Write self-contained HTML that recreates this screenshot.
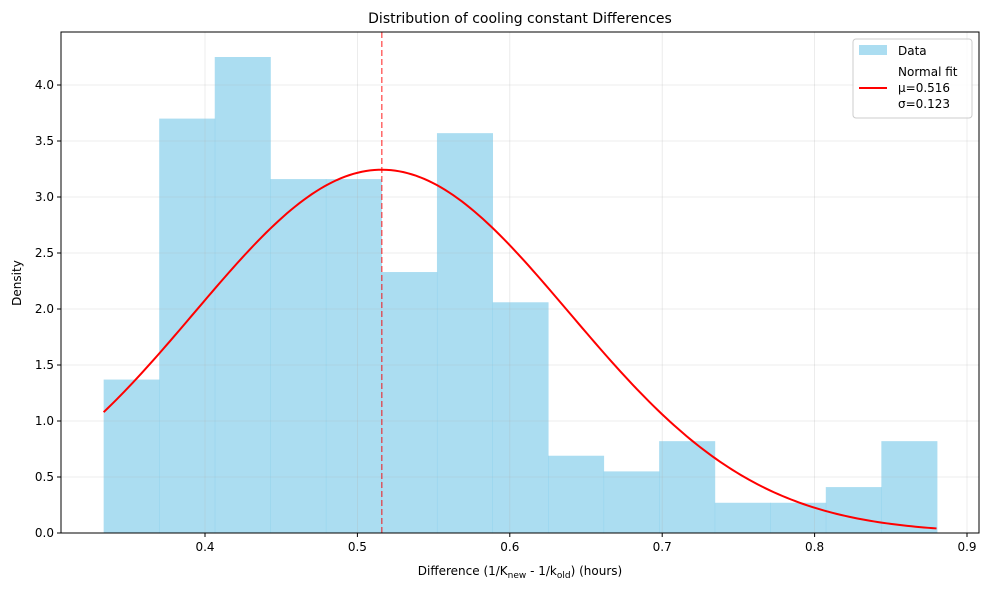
<!DOCTYPE html>
<html><head><meta charset="utf-8"><style>
body{margin:0;background:#fff;font-family:"Liberation Sans","DejaVu Sans",sans-serif;}
text{font-family:"DejaVu Sans","Liberation Sans",sans-serif;}
</style></head><body>
<svg id="chart" width="989" height="590" xmlns="http://www.w3.org/2000/svg">
<rect width="989" height="590" fill="#fff"/>
<g id="bars"></g><g id="grid"></g><g id="curve"></g><g id="axes"></g>
</svg>
<script>
const binStart = 0.3335;
const binWidth = 0.03645;
const densities = [1.37, 3.70, 4.25, 3.16, 3.16, 2.33, 3.57, 2.06, 0.69, 0.55, 0.82, 0.27, 0.27, 0.41, 0.82];
const xTicks = [0.4, 0.5, 0.6, 0.7, 0.8, 0.9];
const yTicks = [0, 0.5, 1.0, 1.5, 2.0, 2.5, 3.0, 3.5, 4.0];
const mu = 0.516, sigma = 0.123;
const fitRange = [0.3335, 0.880];

const L=61,R=979,T=32,B=533;
const x = v => 205 + (v-0.4)*1524;
const y = v => 533 - v*112;
const NS="http://www.w3.org/2000/svg";
function mk(tag, attrs, parent){const e=document.createElementNS(NS,tag);for(const k in attrs)e.setAttribute(k,attrs[k]);parent.appendChild(e);return e;}
const grid=document.getElementById('grid'), bars=document.getElementById('bars'), curve=document.getElementById('curve'), axes=document.getElementById('axes');

xTicks.forEach(t=>{
  const g=mk('line',{x1:x(t),x2:x(t),y1:T,y2:B,stroke:'#b0b0b0','stroke-opacity':0.3,'stroke-width':0.8},grid);
  
  
  mk('line',{x1:x(t),x2:x(t),y1:B,y2:B+4,stroke:'#000'},axes);
  const lb=mk('text',{x:x(t),y:B+18,'text-anchor':'middle','font-size':12},axes);
  lb.textContent=t.toFixed(1);
  
  
});
yTicks.forEach(t=>{
  const g=mk('line',{x1:L,x2:R,y1:y(t),y2:y(t),stroke:'#b0b0b0','stroke-opacity':0.3,'stroke-width':0.8},grid);
  
  
  mk('line',{x1:L-4,x2:L,y1:y(t),y2:y(t),stroke:'#000'},axes);
  const lb=mk('text',{x:L-7,y:y(t)+4,'text-anchor':'end','font-size':12},axes);
  lb.textContent=t.toFixed(1);
  
  
});
densities.forEach((d,i)=>{
  const x0=x(binStart+i*binWidth), x1=x(binStart+(i+1)*binWidth);
  const r=mk('rect',{x:x0,y:y(d),width:x1-x0+0.5,height:B-y(d),fill:'#87ceeb','fill-opacity':0.7},bars);
  
  
});
let pts=[];
for(let i=0;i<=200;i++){const v=fitRange[0]+(fitRange[1]-fitRange[0])*i/200;
  const p=Math.exp(-0.5*((v-mu)/sigma)**2)/(sigma*Math.sqrt(2*Math.PI));pts.push(x(v).toFixed(2)+','+y(p).toFixed(2));}
const pl=mk('polyline',{points:pts.join(' '),fill:'none',stroke:'#ff0000','stroke-width':2},curve);


const ml=mk('line',{x1:x(mu),x2:x(mu),y1:T,y2:B,stroke:'#ff0000','stroke-opacity':0.6,'stroke-dasharray':'6,3','stroke-width':1.5},curve);


const fr=mk('rect',{x:L,y:T,width:R-L,height:B-T,fill:'none',stroke:'#000','stroke-width':1},axes);


</script>
<svg style="position:absolute;left:0;top:0" width="989" height="590">
<text x="520" y="23" text-anchor="middle" font-size="14" font-family="DejaVu Sans, sans-serif">Distribution of cooling constant Differences</text>
<text x="520" y="575" text-anchor="middle" font-size="12" font-family="DejaVu Sans, sans-serif">Difference (1/K<tspan font-size="9" dy="3">new</tspan><tspan dy="-3"> - 1/k</tspan><tspan font-size="9" dy="3">old</tspan><tspan dy="-3">) (hours)</tspan></text>
<text transform="translate(21,283) rotate(-90)" text-anchor="middle" font-size="12" font-family="DejaVu Sans, sans-serif">Density</text>
<g>
<rect x="853" y="39" width="119" height="79" rx="3" fill="#fff" fill-opacity="0.8" stroke="#ccc"/>
<rect x="859" y="45" width="28" height="10" fill="#87ceeb" fill-opacity="0.7"/>
<text x="898" y="55" font-size="12" font-family="DejaVu Sans, sans-serif">Data</text>
<line x1="859" x2="887" y1="88" y2="88" stroke="#f00" stroke-width="2"/>
<text x="898" y="76" font-size="12" font-family="DejaVu Sans, sans-serif">Normal fit</text>
<text x="898" y="92" font-size="12" font-family="DejaVu Sans, sans-serif">μ=0.516</text>
<text x="898" y="108" font-size="12" font-family="DejaVu Sans, sans-serif">σ=0.123</text>
</g>
</svg>
</body></html>
